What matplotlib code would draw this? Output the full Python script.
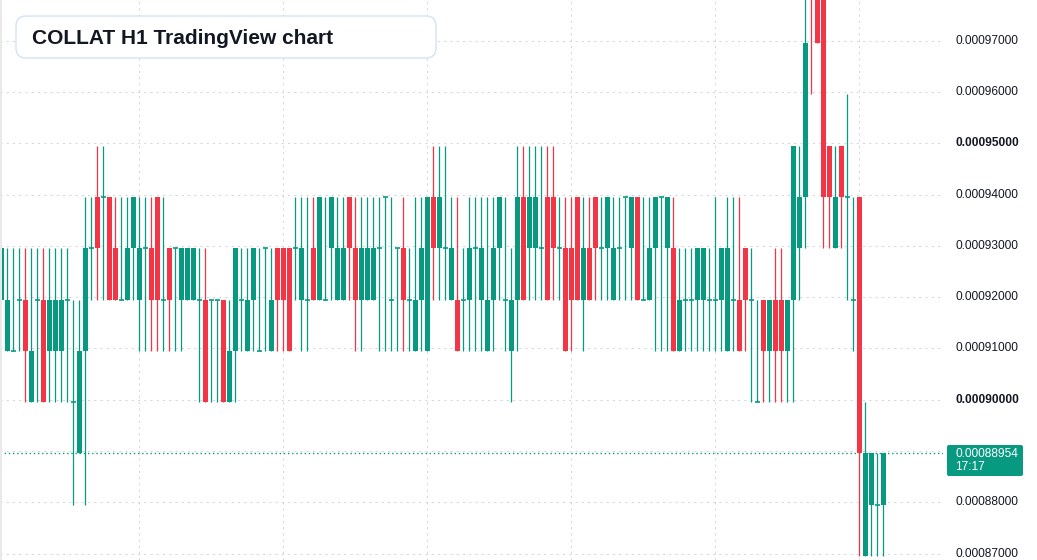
import matplotlib
matplotlib.use("Agg")
import matplotlib.pyplot as plt
import numpy as np
from matplotlib import transforms
from matplotlib.patches import FancyBboxPatch, Rectangle

# COLLAT H1 candles, oldest first
open_ = [
    0.00091954, 0.00090954, 0.00090954, 0.00091954, 0.00091954, 0.00089954, 0.00091954, 0.00091954, 0.00090954, 0.00090954,
    0.00090954, 0.00091954, 0.00089954, 0.00088954, 0.00090954, 0.00092954, 0.00093954, 0.00093954, 0.00093954, 0.00092954,
    0.00091954, 0.00091954, 0.00092954, 0.00091954, 0.00092954, 0.00092954, 0.00093954, 0.00091954, 0.00092954, 0.00092954,
    0.00091954, 0.00091954, 0.00091954, 0.00091954, 0.00091954, 0.00091954, 0.00091954, 0.00091954, 0.00089954, 0.00090954,
    0.00091954, 0.00090954, 0.00091954, 0.00090954, 0.00092954, 0.00090954, 0.00092954, 0.00092954, 0.00092954, 0.00092954,
    0.00091954, 0.00091954, 0.00092954, 0.00091954, 0.00091954, 0.00092954, 0.00091954, 0.00091954, 0.00093954, 0.00092954,
    0.00091954, 0.00091954, 0.00091954, 0.00092954, 0.00093954, 0.00091954, 0.00092954, 0.00092954, 0.00091954, 0.00090954,
    0.00091954, 0.00090954, 0.00093954, 0.00092954, 0.00092954, 0.00091954, 0.00091954, 0.00091954, 0.00091954, 0.00092954,
    0.00091954, 0.00090954, 0.00091954, 0.00092954, 0.00091954, 0.00090954, 0.00091954, 0.00093954, 0.00092954, 0.00092954,
    0.00092954, 0.00093954, 0.00093954, 0.00092954, 0.00092954, 0.00092954, 0.00093954, 0.00091954, 0.00092954, 0.00093954,
    0.00092954, 0.00092954, 0.00091954, 0.00092954, 0.00093954, 0.00092954, 0.00093954, 0.00091954, 0.00091954, 0.00092954,
    0.00093954, 0.00092954, 0.00092954, 0.00090954, 0.00091954, 0.00091954, 0.00091954, 0.00091954, 0.00091954, 0.00091954,
    0.00091954, 0.00090954, 0.00091954, 0.00091954, 0.00092954, 0.00091954, 0.00089954, 0.00091954, 0.00090954, 0.00091954,
    0.00091954, 0.00090954, 0.00091954, 0.00092954, 0.00093954, 0.00098954, 0.00097954, 0.00097954, 0.00094954, 0.00092954,
    0.00094954, 0.00093954, 0.00091954, 0.00093954, 0.00086954, 0.00087954, 0.00087954, 0.00087954,
]
high = [
    0.00092954, 0.00092954, 0.00092954, 0.00092954, 0.00092954, 0.00092954, 0.00092954, 0.00092954, 0.00092954, 0.00092954,
    0.00092954, 0.00092954, 0.00091954, 0.00091954, 0.00093954, 0.00093954, 0.00094954, 0.00094954, 0.00093954, 0.00093954,
    0.00093954, 0.00093954, 0.00093954, 0.00093954, 0.00093954, 0.00093954, 0.00093954, 0.00093954, 0.00092954, 0.00092954,
    0.00092954, 0.00092954, 0.00092954, 0.00092954, 0.00092954, 0.00091954, 0.00091954, 0.00091954, 0.00091954, 0.00092954,
    0.00092954, 0.00092954, 0.00092954, 0.00092954, 0.00092954, 0.00092954, 0.00092954, 0.00092954, 0.00092954, 0.00093954,
    0.00093954, 0.00093954, 0.00093954, 0.00093954, 0.00093954, 0.00093954, 0.00093954, 0.00093954, 0.00093954, 0.00093954,
    0.00093954, 0.00093954, 0.00093954, 0.00093954, 0.00093954, 0.00093954, 0.00092954, 0.00093954, 0.00092954, 0.00093954,
    0.00093954, 0.00093954, 0.00094954, 0.00094954, 0.00094954, 0.00093954, 0.00093954, 0.00092954, 0.00093954, 0.00093954,
    0.00093954, 0.00093954, 0.00093954, 0.00093954, 0.00093954, 0.00092954, 0.00094954, 0.00094954, 0.00094954, 0.00094954,
    0.00094954, 0.00094954, 0.00094954, 0.00093954, 0.00093954, 0.00093954, 0.00093954, 0.00093954, 0.00093954, 0.00093954,
    0.00093954, 0.00093954, 0.00093954, 0.00093954, 0.00093954, 0.00093954, 0.00093954, 0.00093954, 0.00093954, 0.00093954,
    0.00093954, 0.00093954, 0.00093954, 0.00092954, 0.00092954, 0.00092954, 0.00092954, 0.00092954, 0.00092954, 0.00093954,
    0.00092954, 0.00093954, 0.00093954, 0.00093954, 0.00092954, 0.00092954, 0.00091954, 0.00091954, 0.00091954, 0.00092954,
    0.00092954, 0.00091954, 0.00094954, 0.00094954, 0.00098954, 0.00098954, 0.00097954, 0.00097954, 0.00094954, 0.00094954,
    0.00094954, 0.00095954, 0.00093954, 0.00093954, 0.00089954, 0.00088954, 0.00088954, 0.00088954,
]
low = [
    0.00091954, 0.00090954, 0.00090954, 0.00090954, 0.00089954, 0.00089954, 0.00089954, 0.00089954, 0.00089954, 0.00089954,
    0.00089954, 0.00089954, 0.00087954, 0.00088954, 0.00087954, 0.00091954, 0.00091954, 0.00091954, 0.00091954, 0.00091954,
    0.00091954, 0.00091954, 0.00091954, 0.00090954, 0.00090954, 0.00090954, 0.00090954, 0.00090954, 0.00090954, 0.00090954,
    0.00090954, 0.00091954, 0.00091954, 0.00089954, 0.00089954, 0.00089954, 0.00089954, 0.00089954, 0.00089954, 0.00089954,
    0.00090954, 0.00090954, 0.00090954, 0.00090954, 0.00090954, 0.00090954, 0.00090954, 0.00090954, 0.00090954, 0.00091954,
    0.00090954, 0.00090954, 0.00091954, 0.00091954, 0.00091954, 0.00091954, 0.00091954, 0.00091954, 0.00091954, 0.00090954,
    0.00090954, 0.00091954, 0.00091954, 0.00090954, 0.00090954, 0.00090954, 0.00090954, 0.00090954, 0.00090954, 0.00090954,
    0.00090954, 0.00090954, 0.00091954, 0.00091954, 0.00091954, 0.00091954, 0.00090954, 0.00090954, 0.00090954, 0.00090954,
    0.00090954, 0.00090954, 0.00090954, 0.00091954, 0.00090954, 0.00089954, 0.00090954, 0.00091954, 0.00091954, 0.00091954,
    0.00091954, 0.00091954, 0.00091954, 0.00091954, 0.00090954, 0.00090954, 0.00091954, 0.00090954, 0.00091954, 0.00091954,
    0.00091954, 0.00091954, 0.00091954, 0.00091954, 0.00091954, 0.00091954, 0.00091954, 0.00091954, 0.00091954, 0.00090954,
    0.00090954, 0.00090954, 0.00090954, 0.00090954, 0.00090954, 0.00090954, 0.00090954, 0.00090954, 0.00090954, 0.00090954,
    0.00090954, 0.00090954, 0.00090954, 0.00090954, 0.00090954, 0.00089954, 0.00089954, 0.00089954, 0.00089954, 0.00089954,
    0.00089954, 0.00089954, 0.00089954, 0.00091954, 0.00092954, 0.00095954, 0.00096954, 0.00092954, 0.00092954, 0.00092954,
    0.00092954, 0.00091954, 0.00090954, 0.00086954, 0.00086954, 0.00086954, 0.00086954, 0.00086954,
]
close = [
    0.00092954, 0.00091954, 0.00090954, 0.00091954, 0.00090954, 0.00090954, 0.00091954, 0.00089954, 0.00091954, 0.00091954,
    0.00091954, 0.00091954, 0.00089954, 0.00090954, 0.00092954, 0.00092954, 0.00092954, 0.00093954, 0.00091954, 0.00091954,
    0.00091954, 0.00092954, 0.00093954, 0.00092954, 0.00092954, 0.00091954, 0.00091954, 0.00091954, 0.00091954, 0.00092954,
    0.00092954, 0.00092954, 0.00092954, 0.00091954, 0.00089954, 0.00091954, 0.00091954, 0.00089954, 0.00090954, 0.00092954,
    0.00091954, 0.00091954, 0.00092954, 0.00090954, 0.00092954, 0.00091954, 0.00091954, 0.00091954, 0.00090954, 0.00092954,
    0.00092954, 0.00091954, 0.00091954, 0.00093954, 0.00091954, 0.00093954, 0.00092954, 0.00092954, 0.00092954, 0.00091954,
    0.00092954, 0.00092954, 0.00092954, 0.00092954, 0.00093954, 0.00091954, 0.00092954, 0.00091954, 0.00091954, 0.00091954,
    0.00092954, 0.00093954, 0.00092954, 0.00093954, 0.00092954, 0.00092954, 0.00090954, 0.00091954, 0.00092954, 0.00092954,
    0.00092954, 0.00091954, 0.00092954, 0.00093954, 0.00091954, 0.00091954, 0.00093954, 0.00091954, 0.00093954, 0.00093954,
    0.00092954, 0.00091954, 0.00092954, 0.00092954, 0.00090954, 0.00091954, 0.00091954, 0.00092954, 0.00091954, 0.00092954,
    0.00092954, 0.00093954, 0.00092954, 0.00092954, 0.00093954, 0.00093954, 0.00091954, 0.00091954, 0.00092954, 0.00093954,
    0.00093954, 0.00093954, 0.00090954, 0.00091954, 0.00091954, 0.00091954, 0.00092954, 0.00092954, 0.00091954, 0.00091954,
    0.00092954, 0.00092954, 0.00091954, 0.00090954, 0.00091954, 0.00091954, 0.00089954, 0.00090954, 0.00091954, 0.00090954,
    0.00090954, 0.00091954, 0.00094954, 0.00093954, 0.00096954, 0.00097954, 0.00096954, 0.00093954, 0.00093954, 0.00093954,
    0.00093954, 0.00093954, 0.00091954, 0.00088954, 0.00088954, 0.00088954, 0.00087954, 0.00088954,
]

last_price = 0.00088954
last_time = "17:17"
price_ticks = [0.00087, 0.00088, 0.00089, 0.00090, 0.00091, 0.00092,
               0.00093, 0.00094, 0.00095, 0.00096, 0.00097]
bold_ticks = [0.00090, 0.00095]
day_breaks = [23, 47, 71, 95, 119, 143]   # candle index of the vertical grid lines

GREEN = "#089981"
RED = "#F23645"
GRID = "#d3d6dc"
TEXT = "#131722"
FONT = "Liberation Sans"

W, H = 1037, 560
fig = plt.figure(figsize=(W / 100, H / 100), dpi=100)
fig.patch.set_facecolor("white")
ax = fig.add_axes([0, 0, 943 / W, 1])
ax.set_xlim(-0.22, 156.95)
ax.set_ylim(0.000868752, 0.000977934)
ax.axis("off")

# ---- grid -----------------------------------------------------------------
for p in price_ticks:
    ax.axhline(p, color=GRID, lw=0.75, ls=(0, (2, 4)), zorder=0)
for d in day_breaks:
    ax.axvline(d, color=GRID, lw=0.75, ls=(0, (2, 4)), zorder=0)

# ---- candles --------------------------------------------------------------
o, hi, lo, c = (np.array(a) for a in (open_, high, low, close))
x = np.arange(len(o))
up = c >= o
col = np.where(up, GREEN, RED)
ax.vlines(x, lo, hi, colors=col, lw=0.9, zorder=2)
body = ~np.isclose(c, o)
ax.bar(x[body], np.abs(c - o)[body], bottom=np.minimum(o, c)[body],
       width=0.78, color=col[body], lw=0, zorder=3)
ax.hlines(o[~body], x[~body] - 0.39, x[~body] + 0.39, colors=GREEN, lw=1.2, zorder=3)

ax.axhline(last_price, color=GREEN, lw=1, ls=(0, (1, 2)), zorder=1)

# ---- price scale ----------------------------------------------------------
trans = transforms.blended_transform_factory(fig.transFigure, ax.transData)
for p in price_ticks:
    if abs(p - 0.00089) < 1e-9:
        continue  # hidden behind the last-price tag
    bold = any(abs(p - b) < 1e-9 for b in bold_ticks)
    ax.text(955 / W, p, f"{p:.8f}", transform=trans, va="center", ha="left",
            fontsize=8.6, family=FONT, color=TEXT,
            fontweight="bold" if bold else "normal", clip_on=False)

px = transforms.IdentityTransform()
fig.add_artist(FancyBboxPatch((947, H - 476), 76, 31, boxstyle="round,pad=0,rounding_size=2",
                              transform=px, fc=GREEN, ec="none"))
fig.text(955 / W, 1 - 454 / H, f"{last_price:.8f}", va="center", ha="left",
         fontsize=8.6, family=FONT, color="white")
fig.text(955 / W, 1 - 467 / H, last_time, va="center", ha="left",
         fontsize=8.6, family=FONT, color="white")

# ---- title badge ----------------------------------------------------------
fig.add_artist(FancyBboxPatch((16, H - 58), 420, 42, boxstyle="round,pad=0,rounding_size=10",
                              transform=px, fc="white", ec="#d5e2f5", lw=1))
fig.text(32 / W, 1 - 44.3 / H, "COLLAT H1 TradingView chart", va="baseline", ha="left",
         fontsize=15, family=FONT, fontweight="bold", color=TEXT)

fig.add_artist(Rectangle((0, 0), 2, H, transform=px, fc="#e9e9e9", ec="none"))

fig.savefig("out.png", dpi=100)
